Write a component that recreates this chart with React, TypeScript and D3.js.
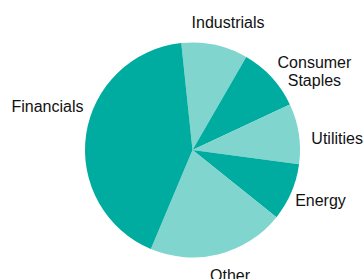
import React from 'react';
import * as d3 from 'd3';

const sectors = ['Industrials', 'Consumer Staples', 'Utilities', 'Energy', 'Other', 'Financials'];
const weights = [10, 9.7, 9.1, 8.6, 20.6, 42];
const sliceColors = ['#80d5cf', '#00aba0', '#80d5cf', '#00aba0', '#80d5cf', '#00aba0'];

// label nudges from the arc centroid (layout only)
const labelShift: [number, number][] = [[11, -7], [35, -2], [28, 12], [19.5, 9.6], [8.4, 16.7], [-28.3, -21]];

export default function App() {
  const w = 363;
  const h = 279;
  const cx = 192.5;
  const cy = 150;
  const r = 107.5;

  const pie = d3.pie<number>()
    .sort(null)
    .value(d => d)
    .startAngle(-6 * Math.PI / 180)
    .endAngle(354 * Math.PI / 180);
  const arcs = pie(weights);

  const arc = d3.arc<d3.PieArcDatum<number>>().innerRadius(0).outerRadius(r);
  const labelArc = d3.arc<d3.PieArcDatum<number>>().innerRadius(118).outerRadius(118);

  return (
    <svg width={w} height={h} style={{ position: 'absolute', left: 0, top: 0, background: '#fff' }}
      fontFamily="'Liberation Sans', Arial, sans-serif" fontSize={16}>
      <g transform={`translate(${cx},${cy})`}>
        {arcs.map((a, i) => (
          <path key={sectors[i]} d={arc(a) || ''} fill={sliceColors[i]} />
        ))}
        {arcs.map((a, i) => {
          const [x, y] = labelArc.centroid(a);
          const lines = sectors[i] === 'Consumer Staples' ? ['Consumer', 'Staples'] : [sectors[i]];
          return (
            <text key={'l' + i} x={x + labelShift[i][0]} y={y + labelShift[i][1]} textAnchor="middle" fill="#111">
              {lines.map((t, j) => (
                <tspan key={j} x={x + labelShift[i][0]} dy={j === 0 ? 0 : 18}>{t}</tspan>
              ))}
            </text>
          );
        })}
      </g>
    </svg>
  );
}
